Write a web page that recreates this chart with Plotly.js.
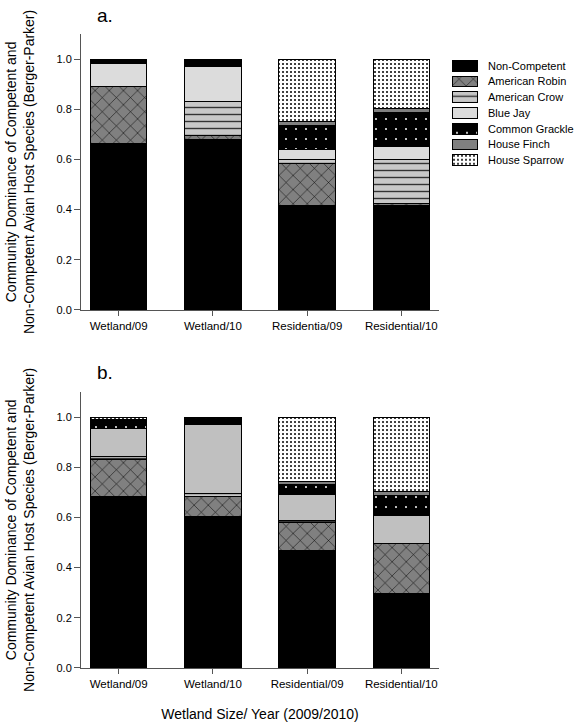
<!DOCTYPE html>
<html>
<head>
<meta charset="utf-8">
<script src="https://cdn.plot.ly/plotly-3.0.1.min.js"></script>
<style>html,body{margin:0;padding:0;background:#fff;}#chart{width:576px;height:724px;}</style>
</head>
<body>
<div id="chart"></div>
<script>
// ---- Data ----
const speciesNames = ["Non-Competent", "American Robin", "American Crow", "Blue Jay", "Common Grackle", "House Finch", "House Sparrow"];

const categoriesA = ["Wetland/09", "Wetland/10", "Residentia/09", "Residential/10"];
const categoriesB = ["Wetland/09", "Wetland/10", "Residential/09", "Residential/10"];

// Panel a (segment heights, bottom to top)
const nonCompetentA = [0.665, 0.678, 0.415, 0.415];
const robinA        = [0.224, 0.016, 0.170, 0.010];
const crowA         = [0.002, 0.137, 0.013, 0.173];
const blueJayA      = [0.093, 0.140, 0.043, 0.054];
const grackleA      = [0.016, 0.026, 0.093, 0.137];
const finchA        = [0.000, 0.003, 0.016, 0.016];
const sparrowA      = [0.000, 0.000, 0.250, 0.195];

// Panel b
const nonCompetentB = [0.684, 0.604, 0.470, 0.295];
const robinB        = [0.146, 0.080, 0.110, 0.200];
const crowB         = [0.011, 0.010, 0.008, 0.002];
const blueJayB      = [0.115, 0.275, 0.103, 0.110];
const grackleB      = [0.029, 0.028, 0.040, 0.080];
const finchB        = [0.006, 0.003, 0.013, 0.017];
const sparrowB      = [0.009, 0.000, 0.256, 0.296];

// ---- Styles ----
const FONT = "Liberation Sans, Arial, sans-serif";
function style(i, panel) {
  const line = {color: "#000", width: 1};
  switch (i) {
    case 0: return {color: "#000", line: line};
    case 1: return {color: "#808080", line: line,
      pattern: {shape: "x", bgcolor: "#808080", fgcolor: "#000", size: 10, solidity: 0.1}};
    case 2: return {color: "#c8c8c8", line: line,
      pattern: {shape: "-", bgcolor: "#c8c8c8", fgcolor: "#333", size: 7, solidity: 0.2}};
    case 3: return {color: panel === "b" ? "#c0c0c0" : "#dcdcdc", line: line};
    case 4: return {color: "#000", line: line,
      pattern: {shape: ".", bgcolor: "#000", fgcolor: "#fff", size: 10, solidity: 0.03}};
    case 5: return {color: "#808080", line: line};
    case 6: return {color: "#fff", line: line,
      pattern: {shape: ".", bgcolor: "#fff", fgcolor: "#000", size: 4, solidity: 0.2}};
  }
}

const seriesA = [nonCompetentA, robinA, crowA, blueJayA, grackleA, finchA, sparrowA];
const seriesB = [nonCompetentB, robinB, crowB, blueJayB, grackleB, finchB, sparrowB];

const traces = [];
seriesA.forEach((vals, i) => {
  traces.push({type: "bar", x: categoriesA, y: vals, name: speciesNames[i],
    xaxis: "x", yaxis: "y", width: 0.6, marker: style(i, "a"),
    showlegend: false, hoverinfo: "skip"});
});
seriesB.forEach((vals, i) => {
  traces.push({type: "bar", x: categoriesB, y: vals, name: speciesNames[i],
    xaxis: "x2", yaxis: "y2", width: 0.6, marker: style(i, "b"),
    showlegend: false, hoverinfo: "skip"});
});
// Legend swatches (key) drawn on a small helper axis
speciesNames.forEach((name, i) => {
  traces.push({type: "bar", orientation: "h", x: [1], y: [i], name: name,
    xaxis: "x3", yaxis: "y3", width: 0.68, marker: style(i, "a"),
    showlegend: false, hoverinfo: "skip"});
});

const xAxisCommon = {
  type: "category", range: [-0.4, 3.4], showline: true, linecolor: "#555", linewidth: 1,
  ticks: "outside", ticklen: 5, tickcolor: "#555", showgrid: false, zeroline: false,
  tickfont: {family: FONT, size: 11.5, color: "#000"}
};
const yAxisCommon = {
  range: [0, 1.1], dtick: 0.2, tick0: 0, tickformat: ".1f", showline: true, linecolor: "#555",
  linewidth: 1, ticks: "outside", ticklen: 6, tickcolor: "#555", showgrid: false, zeroline: false,
  tickfont: {family: FONT, size: 11, color: "#000"}
};

const yTitle = "Community Dominance of Competent and<br>Non-Competent Avian Host Species (Berger-Parker)";
const mainRight = 358 / 495;

const legendAnnotations = speciesNames.map((name, i) => ({
  text: name, xref: "x3", yref: "y3", x: 1, y: i, xshift: 8, xanchor: "left", yanchor: "middle",
  showarrow: false, font: {family: FONT, size: 11, color: "#000"}
}));

const layout = {
  width: 576, height: 724,
  margin: {l: 81, r: 0, t: 34, b: 56},
  paper_bgcolor: "#fff", plot_bgcolor: "#fff",
  barmode: "stack", bargap: 0.4, showlegend: false,
  font: {family: FONT, size: 11, color: "#000"},
  xaxis: Object.assign({}, xAxisCommon, {anchor: "y", domain: [0, mainRight]}),
  yaxis: Object.assign({}, yAxisCommon, {anchor: "x", domain: [0.5647, 1]}),
  xaxis2: Object.assign({}, xAxisCommon, {anchor: "y2", domain: [0, mainRight],
    title: {text: "Wetland Size/ Year (2009/2010)", font: {family: FONT, size: 14, color: "#000"}, standoff: 20}}),
  yaxis2: Object.assign({}, yAxisCommon, {anchor: "x2", domain: [0, 0.4353]}),
  xaxis3: {anchor: "y3", domain: [0.7495, 0.8020], range: [0, 1], visible: false, fixedrange: true},
  yaxis3: {anchor: "x3", domain: [0.7885, 0.9625], range: [6.5, -0.5], visible: false, fixedrange: true},
  annotations: [
    {text: yTitle, xref: "paper", yref: "paper", x: 0, y: 0.7823, xshift: -61,
      xanchor: "center", yanchor: "middle", textangle: -90, showarrow: false,
      font: {family: FONT, size: 14, color: "#000"}},
    {text: yTitle, xref: "paper", yref: "paper", x: 0, y: 0.2177, xshift: -61,
      xanchor: "center", yanchor: "middle", textangle: -90, showarrow: false,
      font: {family: FONT, size: 14, color: "#000"}},
    {text: "a.", xref: "paper", yref: "paper", x: 0.028, y: 1, yshift: 19,
      xanchor: "left", yanchor: "middle", showarrow: false,
      font: {family: FONT, size: 19, color: "#000"}},
    {text: "b.", xref: "paper", yref: "paper", x: 0.028, y: 0.4353, yshift: 20,
      xanchor: "left", yanchor: "middle", showarrow: false,
      font: {family: FONT, size: 19, color: "#000"}}
  ].concat(legendAnnotations)
};

Plotly.newPlot("chart", traces, layout, {displayModeBar: false, staticPlot: true});
</script>
</body>
</html>
